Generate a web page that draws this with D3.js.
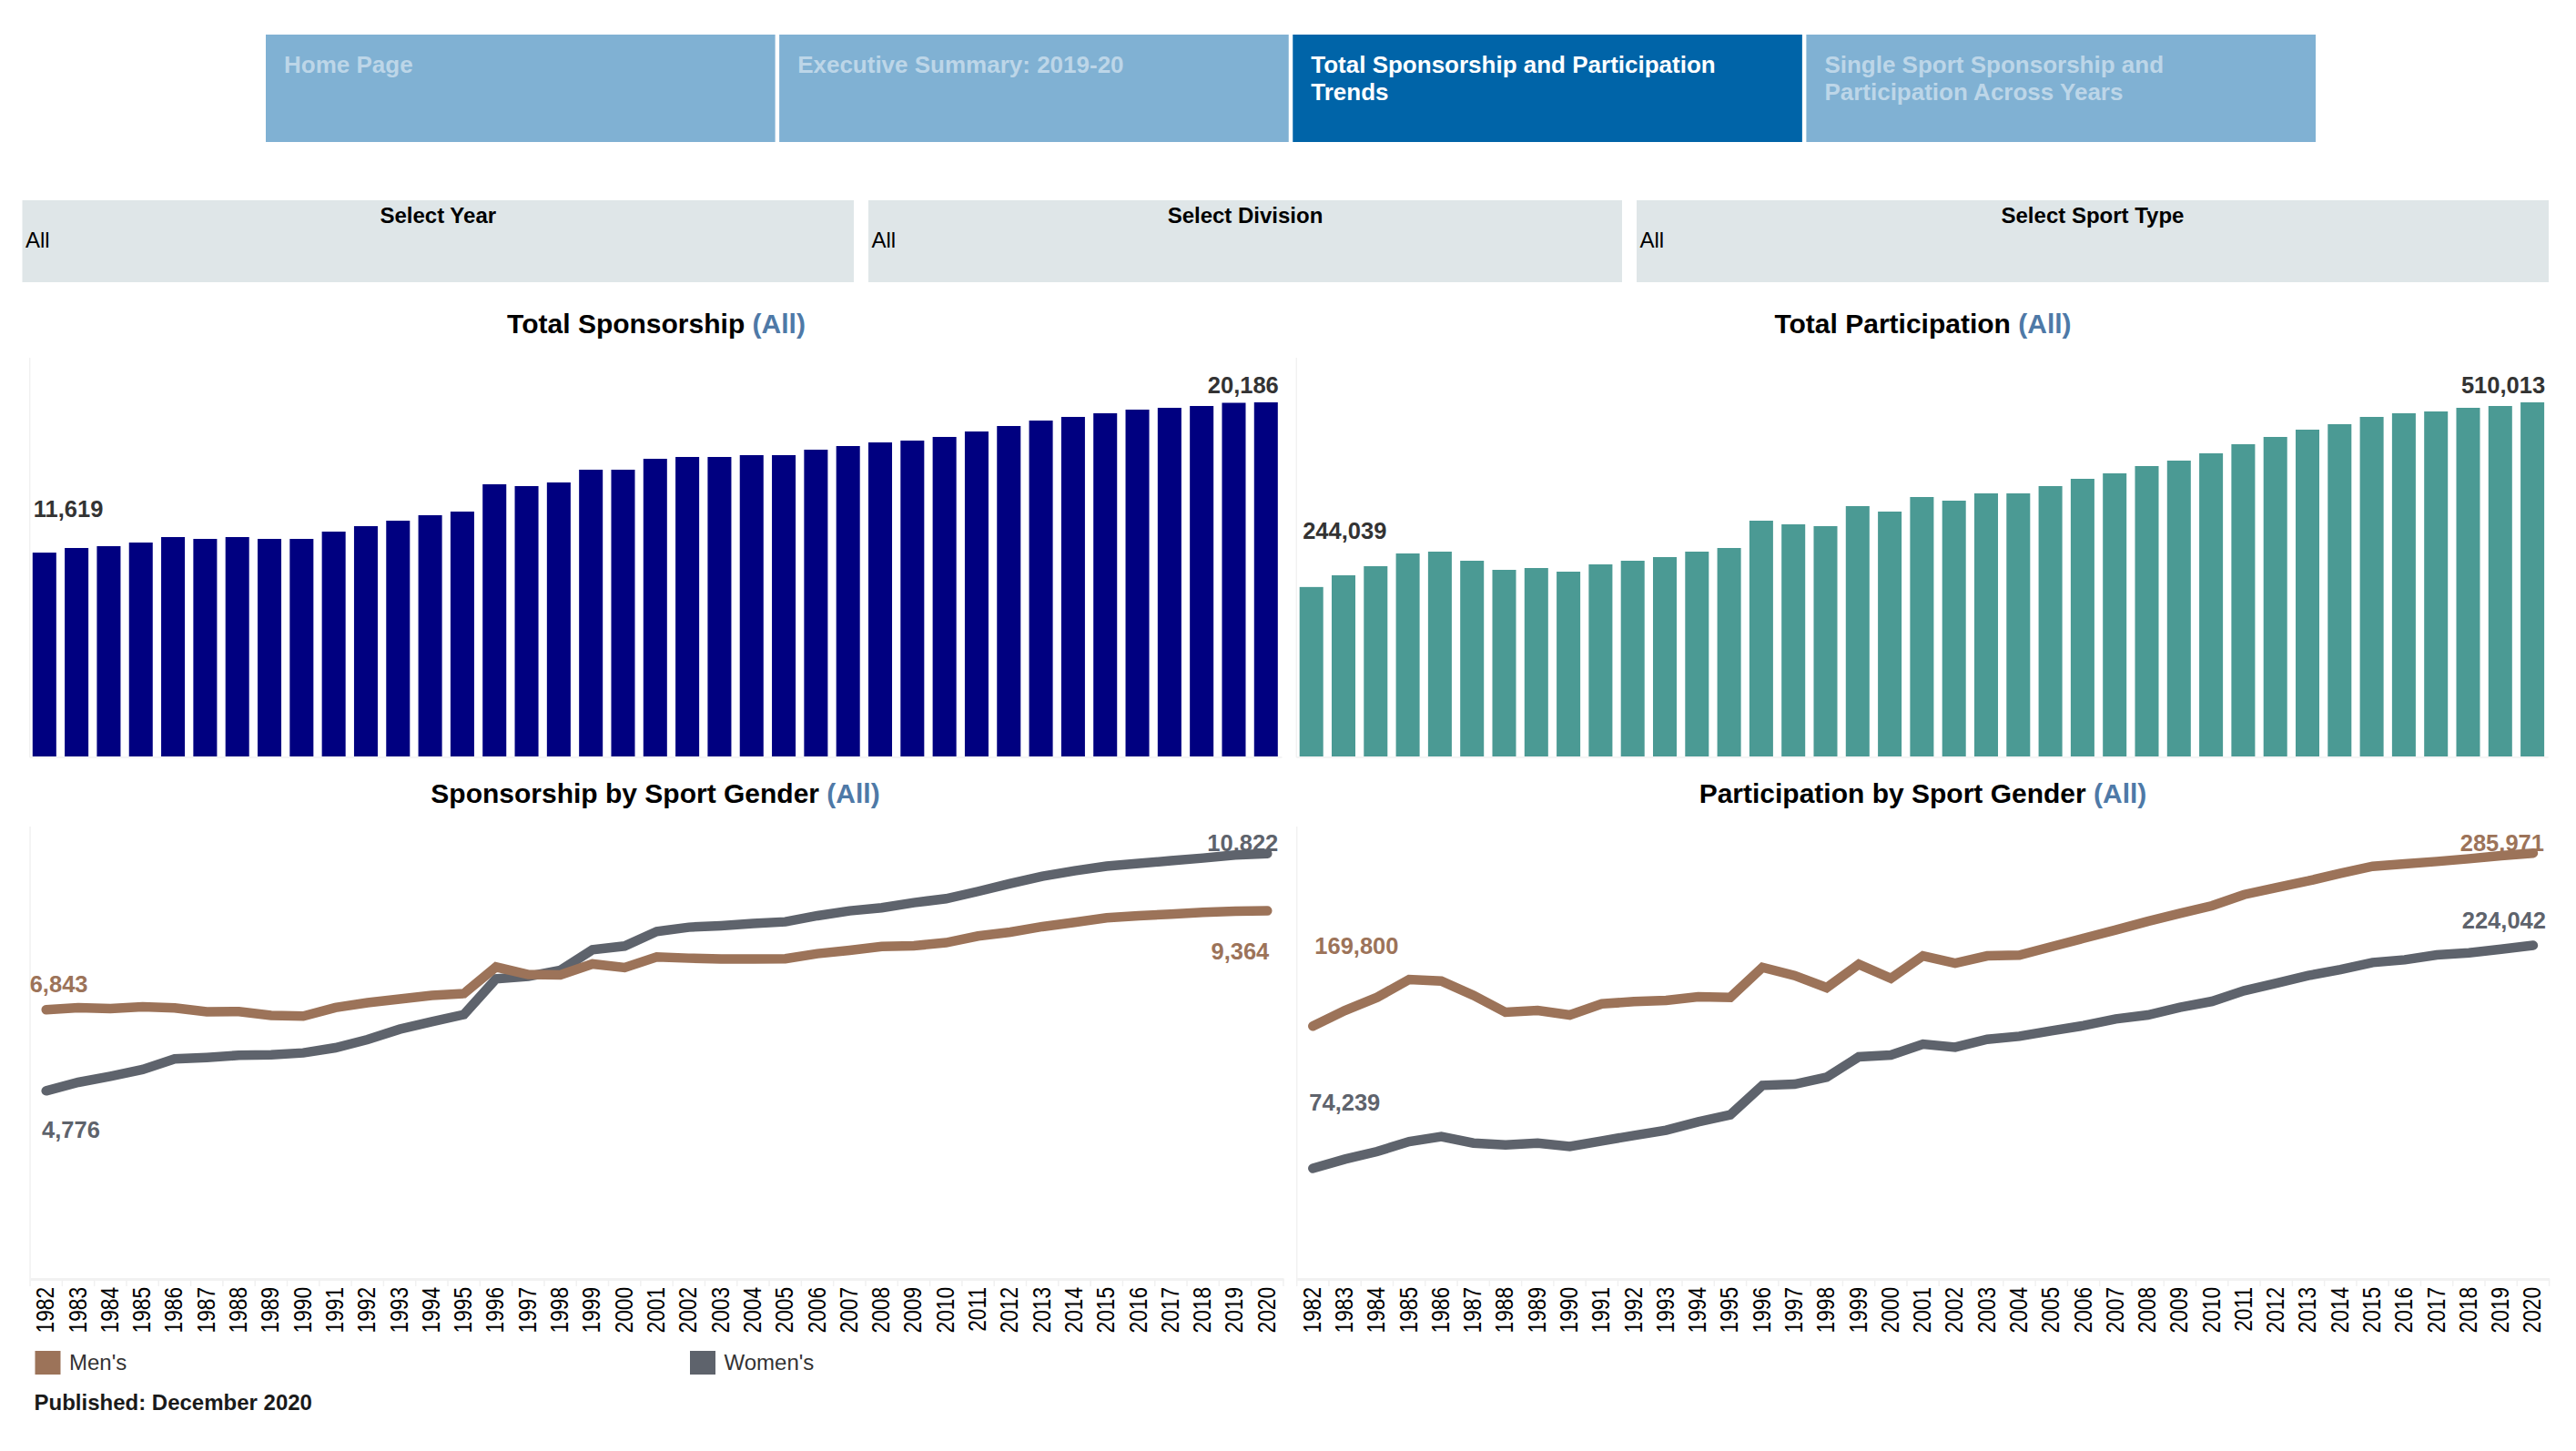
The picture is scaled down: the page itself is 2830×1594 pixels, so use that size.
<!DOCTYPE html>
<html>
<head>
<meta charset="utf-8">
<title>Total Sponsorship and Participation Trends</title>
<script src="https://cdn.jsdelivr.net/npm/d3@7"></script>
<style>
    html, body { margin: 0; padding: 0; background: #ffffff; }
    svg { display: block; }
    text { font-family: "Liberation Sans", Arial, sans-serif; }
</style>
</head>
<body>
<div id="chart"></div>
<script>
// ------------------------------- Data -------------------------------
const years = d3.range(1982, 2021).map(String);

const navLabels = [
    ["Home Page"],
    ["Executive Summary: 2019-20"],
    ["Total Sponsorship and Participation", "Trends"],
    ["Single Sport Sponsorship and", "Participation Across Years"]
];
const activeNav = 2;

const filterTitles = ["Select Year", "Select Division", "Select Sport Type"];
const filterValue = "All";

const totalSponsorship = [
    11619, 11883, 11987, 12194, 12506, 12402, 12506, 12402, 12402, 12817,
    13128, 13440, 13751, 13959, 15515, 15412, 15619, 16346, 16346, 16968,
    17072, 17072, 17176, 17176, 17487, 17695, 17902, 18006, 18214, 18525,
    18837, 19148, 19355, 19563, 19771, 19874, 19978, 20160, 20186
];
const totalParticipation = [
    244039, 260907, 274018, 292373, 294995, 281884, 268773, 271396, 266151, 276640,
    281884, 287129, 294995, 300240, 339572, 334328, 331706, 360550, 352683, 373661,
    368416, 378905, 378905, 389394, 399882, 407749, 418238, 426104, 436593, 449704,
    460193, 470681, 478548, 489037, 494281, 496903, 502147, 504770, 510013
];
const mensSponsorship = [
    6843, 6897, 6874, 6920, 6889, 6789, 6797, 6696, 6681, 6897,
    7021, 7114, 7206, 7255, 7932, 7739, 7731, 8009, 7917, 8187,
    8156, 8133, 8133, 8141, 8272, 8357, 8455, 8473, 8551, 8721,
    8821, 8961, 9069, 9185, 9239, 9278, 9324, 9355, 9364
];
const womensSponsorship = [
    4776, 4993, 5147, 5317, 5588, 5627, 5681, 5696, 5743, 5874,
    6083, 6346, 6539, 6720, 7630, 7692, 7847, 8373, 8466, 8837,
    8945, 8984, 9038, 9084, 9239, 9363, 9440, 9571, 9672, 9858,
    10059, 10244, 10384, 10500, 10569, 10639, 10708, 10786, 10822
];
const mensParticipation = [
    169800, 180318, 189080, 201100, 200081, 190505, 179095, 180318, 177262, 184800,
    186225, 187042, 189487, 189080, 209250, 203750, 195599, 211290, 201915, 216993,
    212103, 216993, 217400, 223105, 228809, 234310, 240200, 245515, 250611, 258150,
    262836, 267320, 272415, 277100, 278729, 280360, 282190, 284230, 285971
];
const womensParticipation = [
    74239, 80483, 85575, 92298, 95559, 91280, 90057, 91280, 89038, 92705,
    96374, 99838, 105543, 110300, 129993, 130807, 135495, 149144, 150367, 157702,
    155666, 160960, 163001, 166668, 170130, 174615, 177262, 182358, 186430, 193563,
    198655, 203750, 207824, 212512, 214346, 217604, 219029, 221474, 224042
];
const legendLabels = ["Men's", "Women's"];
const publishedNote = "Published: December 2020";

// ------------------------------- Colours -------------------------------
const navy = "#000080";
const teal = "#4b9a94";
const mensColor = "#9c7359";
const womensColor = "#5e636c";
const allColor = "#4e79a7";
const paneLine = "#f1f1f1";

const format = d3.format(",");

const svg = d3.select("#chart").append("svg")
    .attr("width", 2830)
    .attr("height", 1594);

// ------------------------------- Small helpers -------------------------------
function yearScale(left, right)
{
    return d3.scaleBand().domain(years).range([left, right])
        .paddingInner(0.263).paddingOuter(0.1315);
}

function drawValueLabel(text, x, y, anchor, color)
{
    svg.append("text")
        .attr("x", x)
        .attr("y", y)
        .attr("text-anchor", anchor)
        .attr("fill", color)
        .attr("font-size", 25.5)
        .attr("font-weight", "bold")
        .text(text);
}

function drawTitle(name, x, y)
{
    let title = svg.append("text")
        .attr("x", x)
        .attr("y", y)
        .attr("text-anchor", "middle")
        .attr("font-size", 30)
        .attr("font-weight", "bold")
        .attr("fill", "#000000");
    title.append("tspan").text(name + " ");
    title.append("tspan").attr("fill", allColor).text("(All)");
}

// ------------------------------- Navigation buttons -------------------------------
function drawNav()
{
    let navX = d3.scaleBand().domain(d3.range(navLabels.length))
        .range([292, 2544]).paddingInner(0.008);

    navLabels.forEach((lines, i) => {
        svg.append("rect")
            .attr("x", navX(i))
            .attr("y", 38)
            .attr("width", navX.bandwidth())
            .attr("height", 118)
            .attr("fill", i === activeNav ? "#0064a8" : "#80b1d3");

        lines.forEach((line, j) => {
            svg.append("text")
                .attr("x", navX(i) + 20)
                .attr("y", 80 + j * 30)
                .attr("font-size", 26)
                .attr("font-weight", "bold")
                .attr("fill", i === activeNav ? "#ffffff" : "#bdd6e8")
                .text(line);
        });
    });
}

// ------------------------------- Filter boxes -------------------------------
function drawFilters()
{
    let boxes = [[24.5, 938], [954, 1782], [1798, 2800]];

    filterTitles.forEach((name, i) => {
        let [left, right] = boxes[i];

        svg.append("rect")
            .attr("x", left)
            .attr("y", 220)
            .attr("width", right - left)
            .attr("height", 90)
            .attr("fill", "#dfe6e8");

        svg.append("text")
            .attr("x", (left + right) / 2)
            .attr("y", 244.5)
            .attr("text-anchor", "middle")
            .attr("font-size", 24)
            .attr("font-weight", "bold")
            .attr("fill", "#000000")
            .text(name);

        svg.append("text")
            .attr("x", left + 3.5)
            .attr("y", 271.5)
            .attr("font-size", 24)
            .attr("fill", "#000000")
            .text(filterValue);
    });
}

// ------------------------------- Bar charts -------------------------------
function drawBars(values, color, left, right, paneX)
{
    let x = yearScale(left, right);
    let y = d3.scaleLinear().domain([0, d3.max(values)]).range([831, 442]);

    svg.append("line")
        .attr("x1", paneX).attr("x2", paneX)
        .attr("y1", 393).attr("y2", 832)
        .attr("stroke", paneLine).attr("stroke-width", 1.5);

    svg.append("line")
        .attr("x1", paneX).attr("x2", right)
        .attr("y1", 832).attr("y2", 832)
        .attr("stroke", paneLine).attr("stroke-width", 1.5);

    svg.append("g").selectAll("rect")
        .data(values)
        .join("rect")
        .attr("x", (d, i) => x(years[i]))
        .attr("y", d => y(d))
        .attr("width", x.bandwidth())
        .attr("height", d => y(0) - y(d))
        .attr("fill", color);

    return {x: x, y: y};
}

// ------------------------------- Line charts -------------------------------
function drawLines(mens, womens, left, right, y0, yMax, domainMax)
{
    let x = d3.scalePoint().domain(years).range([left + 17.65, right - 17.65]);
    let y = d3.scaleLinear().domain([0, domainMax]).range([y0, yMax]);

    let line = d3.line()
        .x((d, i) => x(years[i]))
        .y(d => y(d));

    svg.append("line")
        .attr("x1", left).attr("x2", left)
        .attr("y1", 908).attr("y2", 1405)
        .attr("stroke", paneLine).attr("stroke-width", 1.5);

    // Year axis, separators sit on the band edges
    let band = d3.scaleBand().domain(years).range([left, right]);
    let axis = svg.append("g")
        .attr("transform", "translate(0,1405)")
        .call(d3.axisBottom(band).tickSize(0).tickPadding(0));

    axis.select(".domain").attr("stroke", paneLine).attr("stroke-width", 3);

    axis.selectAll("text")
        .attr("x", 0)
        .attr("y", 0)
        .attr("dy", null)
        .attr("text-anchor", "end")
        .attr("font-size", 28)
        .attr("font-family", "Liberation Sans")
        .attr("fill", "#000000")
        .attr("transform", "translate(8.5,9) rotate(-90) scale(0.81,1)");

    axis.append("g").selectAll("line")
        .data(years.concat(["end"]))
        .join("line")
        .attr("x1", (d, i) => left + i * band.step())
        .attr("x2", (d, i) => left + i * band.step())
        .attr("y1", 0)
        .attr("y2", 8)
        .attr("stroke", paneLine)
        .attr("stroke-width", 1.5);

    return {x: x, y: y, line: line};
}

function strokeLine(chart, values, color)
{
    svg.append("path")
        .datum(values)
        .attr("d", chart.line)
        .attr("fill", "none")
        .attr("stroke", color)
        .attr("stroke-width", 10.5)
        .attr("stroke-linecap", "round")
        .attr("stroke-linejoin", "miter");
}

// ------------------------------- Legend and footer -------------------------------
function drawLegend()
{
    let swatches = [[38.5, mensColor], [758, womensColor]];

    legendLabels.forEach((name, i) => {
        let [swatchX, color] = swatches[i];

        svg.append("rect")
            .attr("x", swatchX)
            .attr("y", 1484)
            .attr("width", 28)
            .attr("height", 26)
            .attr("fill", color);

        svg.append("text")
            .attr("x", swatchX + 37.5)
            .attr("y", 1505)
            .attr("font-size", 24)
            .attr("fill", "#333333")
            .text(name);
    });

    svg.append("text")
        .attr("x", 37.5)
        .attr("y", 1549)
        .attr("font-size", 24)
        .attr("font-weight", "bold")
        .attr("fill", "#1a1a1a")
        .text(publishedNote);
}

// ------------------------------- Build the dashboard -------------------------------
function initialize()
{
    drawNav();
    drawFilters();

    drawTitle("Total Sponsorship", 721, 366);
    drawTitle("Total Participation", 2112.5, 366);
    drawTitle("Sponsorship by Sport Gender", 720, 882);
    drawTitle("Participation by Sport Gender", 2112.5, 882);

    // Top row
    let sponsorBars = drawBars(totalSponsorship, navy, 31.15, 1408.45, 32.7);
    let partBars = drawBars(totalParticipation, teal, 1423.05, 2799.75, 1424.3);

    let lastYear = years[years.length - 1];
    drawValueLabel(format(totalSponsorship[0]), sponsorBars.x(years[0]) + 1,
        sponsorBars.y(totalSponsorship[0]) - 39, "start", "#333333");
    drawValueLabel(format(20186), sponsorBars.x(lastYear) + sponsorBars.x.bandwidth() + 1,
        sponsorBars.y(20186) - 10, "end", "#333333");
    drawValueLabel(format(totalParticipation[0]), partBars.x(years[0]) + 3.5,
        partBars.y(totalParticipation[0]) - 53, "start", "#333333");
    drawValueLabel(format(510013), partBars.x(lastYear) + partBars.x.bandwidth() + 1,
        partBars.y(510013) - 10, "end", "#333333");

    // Bottom row, the labels go under the lines
    let sponsorLines = drawLines(mensSponsorship, womensSponsorship, 33.05, 1409.95, 1404.2, 937.7, 10822);
    let partLines = drawLines(mensParticipation, womensParticipation, 1424.66, 2800.6, 1405, 937.2, 285971);

    let ends = [
        [sponsorLines, years[0], 6843, -18, -19, "start", mensColor],
        [sponsorLines, years[0], 4776, -4.7, 52, "start", womensColor],
        [sponsorLines, lastYear, 10822, 12, -3, "end", womensColor],
        [sponsorLines, lastYear, 9364, 2, 53, "end", mensColor],
        [partLines, years[0], 169800, 2, -79, "start", mensColor],
        [partLines, years[0], 74239, -4, -64, "start", womensColor],
        [partLines, lastYear, 285971, 12, -2, "end", mensColor],
        [partLines, lastYear, 224042, 14, -18.5, "end", womensColor]
    ];
    ends.forEach(([chart, year, value, dx, dy, anchor, color]) => {
        drawValueLabel(format(value), chart.x(year) + dx, chart.y(value) + dy, anchor, color);
    });

    strokeLine(sponsorLines, womensSponsorship, womensColor);
    strokeLine(sponsorLines, mensSponsorship, mensColor);
    strokeLine(partLines, womensParticipation, womensColor);
    strokeLine(partLines, mensParticipation, mensColor);

    drawLegend();
}

// Call the initializing function
initialize();
</script>
</body>
</html>
